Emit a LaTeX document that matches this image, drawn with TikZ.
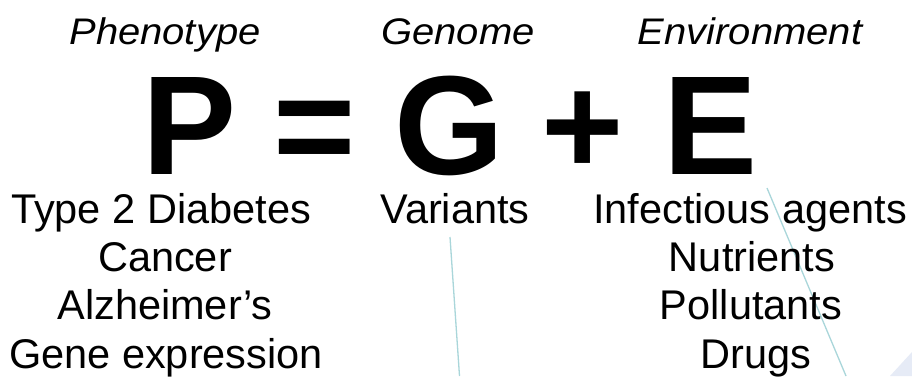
\documentclass[tikz,border=0pt]{standalone}
\usepackage{fontspec}
\setmainfont{Liberation Sans}
\newfontfamily\labelfont[FakeStretch=1.08]{Liberation Sans}
\definecolor{linecol}{HTML}{A9D6DA}
\definecolor{tricol}{HTML}{E6EBF6}
\tikzset{
  toplabel/.style={anchor=base, inner sep=0pt, font=\labelfont\itshape\fontsize{37}{40}\selectfont},
  bigsym/.style={anchor=base, inner sep=0pt, text height=101pt, text depth=0pt, font=\bfseries\fontsize{141}{141}\selectfont},
  item/.style={anchor=base, inner sep=0pt, text height=30pt, font=\fontsize{41.5}{48}\selectfont},
  thinline/.style={draw=linecol, line width=1.3pt}
}
\begin{document}
\begin{tikzpicture}[x=1pt,y=-1pt]
\useasboundingbox (0,0) rectangle (912,376);
\fill[white] (0,0) rectangle (912,376);
% corner triangle
\fill[tricol] (890,376) -- (912,352) -- (912,376) -- cycle;
% thin lines
\coordinate (l1a) at (450,237);
\coordinate (l1b) at (459.5,376);
\coordinate (l2a) at (767,188);
\coordinate (l2b) at (846,376);
\draw[thinline] (l1a) -- (l1b);
\draw[thinline] (l2a) -- (l2b);
% top labels
\node[toplabel] (phen) at (165,44) {Phenotype};
\node[toplabel] (geno) at (458,44) {Genome};
\node[toplabel] (envi) at (750,44) {Environment};
% equation
\node[bigsym] (P) at (190,174) {P};
\node[bigsym] (eq) at (315,174) {=};
\node[bigsym] (G) at (449,174) {G};
\node[bigsym] (plus) at (583,174) {+};
\node[bigsym] (E) at (711,174) {E};
% phenotype list
\node[item] (p1) at (161,223) {Type 2 Diabetes};
\node[item] (p2) at (165,271) {Cancer};
\node[item] (p3) at (165,319) {Alzheimer’s};
\node[item] (p4) at (166,368) {Gene expression};
% genome
\node[item] (g1) at (455,223) {Variants};
% environment list
\node[item] (e1) at (750,223) {Infectious agents};
\node[item] (e2) at (752,271) {Nutrients};
\node[item] (e3) at (751,319) {Pollutants};
\node[item] (e4) at (756,368) {Drugs};
\end{tikzpicture}
\end{document}
